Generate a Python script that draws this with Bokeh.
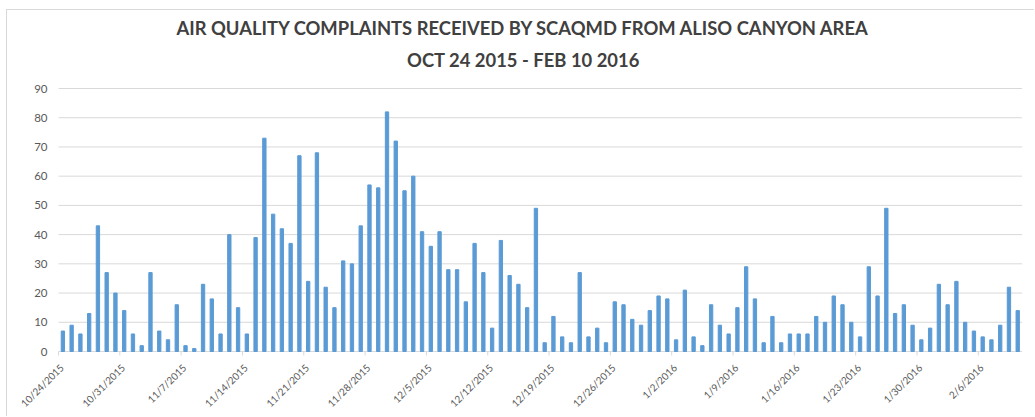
import math
import pandas as pd
from bokeh.plotting import figure
from bokeh.models import Range1d, ColumnDataSource, LabelSet, Label
from bokeh.core.properties import value
from bokeh.embed import file_html
from bokeh.resources import INLINE

start_date = "2015-10-24"
end_date = "2016-02-10"

complaints_oct = [7, 9, 6, 13, 43, 27, 20, 14]
complaints_nov = [6, 2, 27, 7, 4, 16, 2, 1, 23, 18, 6, 40, 15, 6, 39, 73, 47, 42, 37, 67,
                  24, 68, 22, 15, 31, 30, 43, 57, 56, 82]
complaints_dec = [72, 55, 60, 41, 36, 41, 28, 28, 17, 37, 27, 8, 38, 26, 23, 15, 49, 3, 12, 5,
                  3, 27, 5, 8, 3, 17, 16, 11, 9, 14, 19]
complaints_jan = [18, 4, 21, 5, 2, 16, 9, 6, 15, 29, 18, 3, 12, 3, 6, 6, 6, 12, 10, 19,
                  16, 10, 5, 29, 19, 49, 13, 16, 9, 4, 8]
complaints_feb = [23, 16, 24, 10, 7, 5, 4, 9, 22, 14]

y_ticks = [0, 10, 20, 30, 40, 50, 60, 70, 80, 90]
tick_labels = ["10/24/2015", "10/31/2015", "11/7/2015", "11/14/2015", "11/21/2015",
               "11/28/2015", "12/5/2015", "12/12/2015", "12/19/2015", "12/26/2015",
               "1/2/2016", "1/9/2016", "1/16/2016", "1/23/2016", "1/30/2016", "2/6/2016"]

title_line1 = "AIR QUALITY COMPLAINTS RECEIVED BY SCAQMD FROM ALISO CANYON AREA"
title_line2 = "OCT 24 2015 - FEB 10 2016"

values = complaints_oct + complaints_nov + complaints_dec + complaints_jan + complaints_feb
dates = pd.date_range(start_date, end_date, freq="D")
n = len(dates)
tick_pos = list(range(0, n, 7))

FONT = "Lato"
TXT = "#595959"
GRID = "#d9d9d9"

# page geometry (pixels)
ORIGIN_X, ORIGIN_Y = 7, 10          # content origin after css margin + border
PLOT_L, PLOT_R = 58, 1021.6         # chart area left/right on the page
PLOT_T, PLOT_B = 88, 351            # chart area top (=90) and bottom (=0)
PAGE_W, PAGE_H = 1035, 417
Y_MAX = y_ticks[-1]
PX_X = (PLOT_R - PLOT_L) / n
PX_Y = (PLOT_B - PLOT_T) / Y_MAX

x_start = -(PLOT_L - ORIGIN_X) / PX_X
x_end = (PAGE_W - PLOT_L) / PX_X
y_start = -(PAGE_H - PLOT_B) / PX_Y
y_end = Y_MAX + (PLOT_T - ORIGIN_Y) / PX_Y

p = figure(width=PAGE_W - ORIGIN_X, height=PAGE_H - ORIGIN_Y,
           output_backend="svg", toolbar_location=None,
           x_range=Range1d(x_start, x_end), y_range=Range1d(y_start, y_end),
           min_border_left=0, min_border_right=0, min_border_top=0, min_border_bottom=0)

p.outline_line_color = None
p.grid.visible = False
p.axis.visible = False

# horizontal gridlines (0 line acts as the category axis)
p.segment(x0=[0] * len(y_ticks), x1=[n] * len(y_ticks), y0=y_ticks, y1=y_ticks,
          line_color=GRID, line_width=1)
# tick marks below the axis
p.segment(x0=tick_pos, x1=tick_pos, y0=[0] * len(tick_pos),
          y1=[-4 / PX_Y] * len(tick_pos), line_color=GRID, line_width=1)

src = ColumnDataSource(dict(x=[i + 0.5 for i in range(n)], top=values))
p.vbar(x="x", top="top", width=0.38, source=src, color="#5b9bd5")

# value-axis labels
ylab_src = ColumnDataSource(dict(x=[0] * len(y_ticks), y=y_ticks,
                                 text=[str(v) for v in y_ticks]))
p.add_layout(LabelSet(x="x", y="y", text="text", source=ylab_src, text_align="right",
                      text_baseline="middle", x_offset=-11, text_font=value(FONT),
                      text_font_size=value("11.5px"), text_color=TXT))

# rotated date labels below the axis
lab_src = ColumnDataSource(dict(x=tick_pos, y=[0] * len(tick_pos), text=tick_labels))
p.add_layout(LabelSet(x="x", y="y", text="text", source=lab_src, angle=math.pi / 4,
                      text_align="right", text_baseline="top", x_offset=-1, y_offset=-10,
                      text_font=value(FONT), text_font_size=value("10px"), text_color=TXT))

# two-line title
title_x = (523 - PLOT_L) / PX_X
for txt, cy in [(title_line1, 27), (title_line2, 59)]:
    p.add_layout(Label(x=title_x, y=Y_MAX + (PLOT_T - cy) / PX_Y, text=txt,
                       text_align="center", text_baseline="middle", text_font=FONT,
                       text_font_size="18.4px", text_font_style="bold",
                       text_color="#404040"))

p.styles = {"margin-left": "6px", "margin-top": "9px",
            "border-left": "1px solid #d9d9d9", "border-top": "1px solid #d9d9d9"}

open("out.html", "w").write(file_html(p, INLINE))
